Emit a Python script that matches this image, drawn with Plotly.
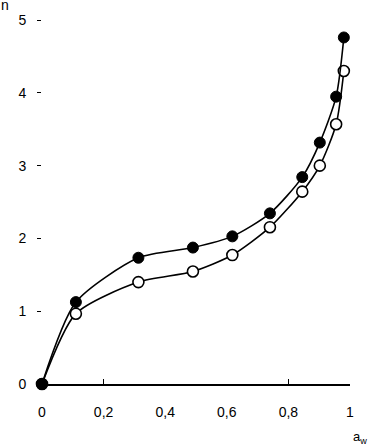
import plotly.graph_objects as go

aw = [0, 0.11, 0.313, 0.49, 0.618, 0.74, 0.845, 0.902, 0.955, 0.98]
n_filled = [0, 1.125, 1.734, 1.874, 2.028, 2.344, 2.842, 3.316, 3.947, 4.76]
n_open = [0, 0.966, 1.40, 1.545, 1.771, 2.154, 2.642, 2.999, 3.568, 4.299]
x_ticks = [0, 0.2, 0.4, 0.6, 0.8, 1]
x_labels = ["0", "0,2", "0,4", "0,6", "0,8", "1"]
y_ticks = [0, 1, 2, 3, 4, 5]

fig = go.Figure()
fig.add_trace(go.Scatter(
    x=aw, y=n_open, mode="lines+markers",
    line=dict(color="black", width=1.6, shape="spline", smoothing=0.7),
    marker=dict(size=11, color="white", line=dict(color="black", width=1.6)),
    cliponaxis=False, showlegend=False))
fig.add_trace(go.Scatter(
    x=aw, y=n_filled, mode="lines+markers",
    line=dict(color="black", width=1.6, shape="spline", smoothing=0.7),
    marker=dict(size=11, color="black", line=dict(color="black", width=1)),
    cliponaxis=False, showlegend=False))

fig.update_layout(
    width=369, height=445,
    margin=dict(l=42, r=19, t=15, b=61),
    paper_bgcolor="white", plot_bgcolor="white",
    font=dict(family="Liberation Sans, Arial, sans-serif", size=14, color="black"),
    separators=", ",
    xaxis=dict(range=[0, 1], tickvals=x_ticks, ticktext=x_labels, ticks="",
               showline=True, linecolor="black", linewidth=1.5,
               showgrid=False, zeroline=False, ticklabelstandoff=14,
               minor=dict(tickvals=[0.2, 0.8], ticks="inside", ticklen=5,
                          tickcolor="black", tickwidth=1.2, showgrid=False)),
    yaxis=dict(range=[0, 5], tickvals=y_ticks, ticks="outside", ticklen=4,
               tickcolor="black", tickwidth=1, showline=False,
               showgrid=False, zeroline=False, ticklabelstandoff=8),
    annotations=[
        dict(text="n", x=0, y=1, xref="paper", yref="paper", xshift=-43, yshift=25,
             xanchor="left", yanchor="top", showarrow=False, font=dict(size=14)),
        dict(text="a<sub>w</sub>", x=1, y=0, xref="paper", yref="paper", xshift=1, yshift=-43,
             xanchor="left", yanchor="top", showarrow=False, font=dict(size=13)),
    ],
)

fig.write_html("out.html", config={"displayModeBar": False},
               post_script="document.body.style.margin='0';")
